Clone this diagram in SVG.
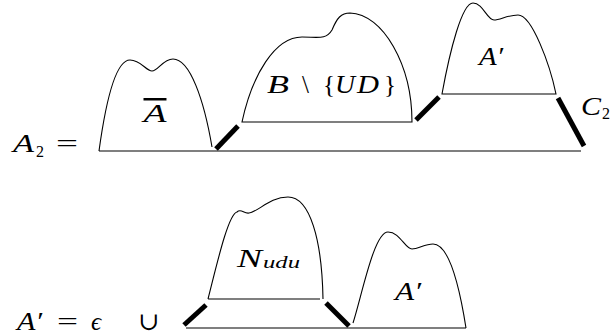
<svg xmlns="http://www.w3.org/2000/svg" width="611" height="335" viewBox="0 0 611 335">
<style>
.ln{fill:none;stroke:#000;stroke-width:1.1}
.base{fill:none;stroke:#000;stroke-width:1.1}
.th{fill:none;stroke:#000;stroke-width:5;stroke-linecap:butt}
text{font-family:'Liberation Serif','DejaVu Serif',serif;font-size:25px;fill:#000}
.i{font-style:italic}
.s{font-size:16px;font-style:normal}
.si{font-size:17px;font-style:italic}
</style>
<rect width="611" height="335" fill="#fff"/>
<g id="lhs-A2">
<text x="13" y="152"><tspan class="i" textLength="21" lengthAdjust="spacingAndGlyphs">A</tspan><tspan class="s" x="36" y="157">2</tspan><tspan x="56" y="152" textLength="22" lengthAdjust="spacingAndGlyphs">=</tspan></text>
</g>
<g id="baseline-top"><path class="base" d="M99,151 H581"/></g>
<g id="hill-Abar">
<path class="ln" d="M99,151 C106,100 116,60 130,60 C141,60 146,71 152,71 C158,71 163,59 173,59 C190,59 204,100 212,147"/>
<text class="i" x="155" y="122" text-anchor="middle" textLength="23" lengthAdjust="spacingAndGlyphs" style="text-decoration:overline">A</text>
</g>
<g id="hill-B">
<path class="ln" d="M242,122 C252,75 275,37 302,37 C318,37 326,40 332,30 C337,18 341,13 350,13 C383,14 412,65 412,122 Z"/>
<text x="267" y="93"><tspan class="i" textLength="22" lengthAdjust="spacingAndGlyphs">B</tspan><tspan x="302">\</tspan><tspan x="323">{</tspan><tspan class="i" x="335" textLength="20" lengthAdjust="spacingAndGlyphs">U</tspan><tspan class="i" x="357" textLength="22" lengthAdjust="spacingAndGlyphs">D</tspan><tspan x="384">}</tspan></text>
</g>
<g id="hill-Aprime-top">
<path class="ln" d="M442,94 C450,50 462,3 473,3 C483,3 487,20 494,20 C500,20 508,15 518,15 C532,15 550,65 556,94 Z"/>
<text class="i" x="479" y="65" textLength="24" lengthAdjust="spacingAndGlyphs">A′</text>
</g>
<g id="label-C2">
<text x="581" y="115"><tspan class="i" textLength="20" lengthAdjust="spacingAndGlyphs">C</tspan><tspan class="s" x="602" y="119">2</tspan></text>
</g>
<g id="lhs-Aprime">
<text x="17" y="330"><tspan class="i" textLength="25" lengthAdjust="spacingAndGlyphs">A′</tspan><tspan x="57" textLength="21" lengthAdjust="spacingAndGlyphs">=</tspan><tspan class="i" x="91">ϵ</tspan><tspan x="138">∪</tspan></text>
</g>
<g id="baseline-bottom"><path class="base" d="M186,328 H466"/></g>
<g id="hill-Nudu">
<path class="ln" d="M208,299 C216,268 228,214 237,212 C241,208 244,214 249,213 C258,212 270,197 288,197 C310,197 322,240 323,299 M208,299 H320"/>
<text x="237" y="267"><tspan class="i" textLength="25" lengthAdjust="spacingAndGlyphs">N</tspan><tspan class="si" x="263" y="268" textLength="37" lengthAdjust="spacingAndGlyphs">udu</tspan></text>
</g>
<g id="hill-Aprime-bottom">
<path class="ln" d="M353,323 C362,295 374,232 388,232 C400,232 405,249 412,249 C418,249 425,244 433,244 C450,244 460,290 466,328"/>
<text class="i" x="395" y="300" textLength="26" lengthAdjust="spacingAndGlyphs">A′</text>
</g>
<g id="connectors">
<path class="th" d="M216,149 L238,126"/>
<path class="th" d="M416,120 L439,97"/>
<path class="th" d="M558,98 L584,146"/>
<path class="th" d="M184,325 L206,305"/>
<path class="th" d="M326,303 L349,326"/>
</g>
</svg>
